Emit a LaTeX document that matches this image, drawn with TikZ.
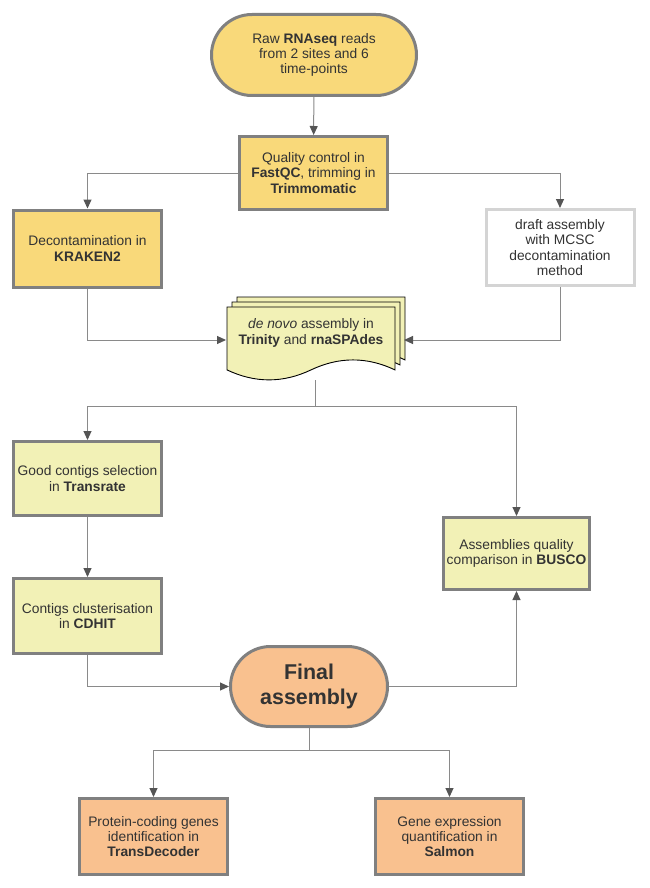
\documentclass[tikz,border=0pt]{standalone}
\usepackage{fontspec}
\setmainfont{Liberation Sans}
\usetikzlibrary{shapes.misc,arrows.meta}
\definecolor{yfill}{HTML}{F9D97A}
\definecolor{lyfill}{HTML}{F2F1B6}
\definecolor{ofill}{HTML}{F9C18F}
\definecolor{bord}{HTML}{808080}
\definecolor{lbord}{HTML}{D4D4D4}
\definecolor{txt}{HTML}{333333}
\definecolor{conn}{HTML}{8A8A8A}
\definecolor{tipc}{HTML}{555555}
\newcommand{\mydocpage}[2]{\draw[docpage,shift={(#1,#2)}] (0,0) -- (168,0) -- (168,62.9) .. controls (140,49.6) and (112,49.6) .. (84,62.9) .. controls (56,76.2) and (28,76.2) .. (0,62.9) -- cycle;}
\begin{document}
\begin{tikzpicture}[x=1pt,y=-1pt,
  every node/.style={font=\fontsize{13.8}{15.4}\selectfont, text=txt, align=center, inner sep=0pt},
  boxy/.style={draw=bord, line width=3pt, fill=yfill, minimum width=148pt, minimum height=76pt},
  boxly/.style={boxy, fill=lyfill},
  boxo/.style={boxy, fill=ofill},
  term/.style={rounded rectangle, draw=bord, line width=3pt},
  docpage/.style={draw=black, line width=0.9pt, fill=lyfill},
  conn/.style={draw=conn, line width=1pt, -{Triangle[length=9pt,width=8pt,color=tipc]}},
  plain/.style={draw=conn, line width=1pt}
]
\useasboundingbox (0,0) rectangle (649,888);
\fill[white] (0,0) rectangle (649,888);

\node[term, fill=yfill, minimum width=205pt, minimum height=81pt] (top) at (314,55)
  {Raw \textbf{RNAseq} reads\\from 2 sites and 6\\time-points};
\node[boxy, minimum width=148pt, minimum height=73pt] (qc) at (313.5,173)
  {Quality control in\\\textbf{FastQC}, trimming in\\\textbf{Trimmomatic}};
\node[boxy, minimum height=77pt] (dec) at (87.5,248.5)
  {Decontamination in\\\textbf{KRAKEN2}};
\node[boxy, draw=lbord, fill=white, minimum height=76pt] (draft) at (560,247.5)
  {draft assembly\\with MCSC\\decontamination\\method};

\mydocpage{237}{297}
\mydocpage{232}{302}
\mydocpage{227}{307}
\node (doc) at (311,333) {\textit{de novo} assembly in\\\textbf{Trinity} and \textbf{rnaSPAdes}};
\coordinate (docL) at (226,340);
\coordinate (docR) at (404,340);
\coordinate (docB) at (315,380);

\node[boxly, minimum height=74pt] (good) at (87.5,478.5)
  {Good contigs selection\\in \textbf{Transrate}};
\node[boxly, minimum height=75pt] (clus) at (87.5,616)
  {Contigs clusterisation\\in \textbf{CDHIT}};
\node[boxly, minimum width=146pt, minimum height=72pt] (busco) at (516.5,553.5)
  {Assemblies quality\\comparison in \textbf{BUSCO}};
\node[term, fill=ofill, minimum width=157pt, minimum height=80pt,
  font=\fontsize{21.4}{25}\selectfont\bfseries] (final) at (309,686.5) {Final\\assembly};
\node[boxo, minimum height=76pt] (prot) at (153.5,836.5)
  {Protein-coding genes\\identification in\\\textbf{TransDecoder}};
\node[boxo, minimum height=76pt] (gene) at (449.5,836.5)
  {Gene expression\\quantification in\\\textbf{Salmon}};

\draw[conn] (top) -- (qc);
\draw[conn] (qc.west) -| (dec.north);
\draw[conn] (qc.east) -| (draft.north);
\draw[conn] (dec.south) |- (docL);
\draw[conn] (draft.south) |- (docR);
\draw[plain] (docB) -- (315,406);
\draw[conn] (315,406) -| (good.north);
\draw[conn] (315,406) -| (busco.north);
\draw[conn] (good) -- (clus);
\draw[conn] (clus.south) |- (final.west);
\draw[conn] (final.east) -| (busco.south);
\draw[plain] (final.south) -- (309,750);
\draw[conn] (309,750) -| (prot.north);
\draw[conn] (309,750) -| (gene.north);
\end{tikzpicture}
\end{document}
